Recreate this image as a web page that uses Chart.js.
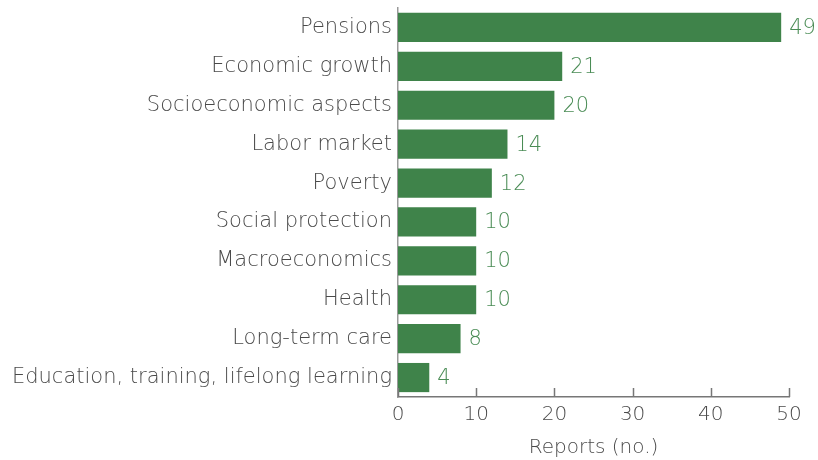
<!DOCTYPE html>
<html>
<head>
<meta charset="utf-8">
<script src="https://cdn.jsdelivr.net/npm/chart.js@4.4.1/dist/chart.umd.min.js"></script>
<style>
  html, body { margin: 0; padding: 0; background: #fff; }
  #wrap { width: 818px; height: 460px; }
</style>
</head>
<body>
<div id="wrap"><canvas id="myChart" width="818" height="460"></canvas></div>
<script>
const topics = [
  'Pensions',
  'Economic growth',
  'Socioeconomic aspects',
  'Labor market',
  'Poverty',
  'Social protection',
  'Macroeconomics',
  'Health',
  'Long-term care',
  'Education, training, lifelong learning'
];
const reports = [49, 21, 20, 14, 12, 10, 10, 10, 8, 4];
const xTicks = [0, 10, 20, 30, 40, 50];

const barColor = '#3f834a';
const labelColor = '#4a8c55';
const textColor = '#4a4a4a';
const axisColor = '#777777';
const fontFamily = "'DejaVu Sans', sans-serif";

// number at the end of each bar
const valueLabels = {
  id: 'valueLabels',
  afterDatasetsDraw(chart) {
    const ctx = chart.ctx;
    const meta = chart.getDatasetMeta(0);
    ctx.save();
    ctx.font = '200 21px ' + fontFamily;
    ctx.fillStyle = labelColor;
    ctx.textAlign = 'left';
    ctx.textBaseline = 'middle';
    meta.data.forEach((bar, i) => {
      ctx.fillText(String(reports[i]), bar.x + 8, bar.y + 1);
    });
    ctx.restore();
  }
};

// short tick marks pointing up from the x axis
const innerTicks = {
  id: 'innerTicks',
  afterDraw(chart) {
    const ctx = chart.ctx;
    const x = chart.scales.x;
    const bottom = chart.chartArea.bottom;
    ctx.save();
    ctx.strokeStyle = axisColor;
    ctx.lineWidth = 1.5;
    xTicks.forEach(v => {
      const px = Math.round(x.getPixelForValue(v)) + 0.5;
      ctx.beginPath();
      ctx.moveTo(px, bottom - 9);
      ctx.lineTo(px, bottom);
      ctx.stroke();
    });
    ctx.restore();
  }
};

const ctx = document.getElementById('myChart').getContext('2d');
new Chart(ctx, {
  type: 'bar',
  data: {
    labels: topics,
    datasets: [{
      data: reports,
      backgroundColor: barColor,
      borderWidth: 0,
      categoryPercentage: 1,
      barPercentage: 0.75
    }]
  },
  options: {
    indexAxis: 'y',
    responsive: false,
    animation: false,
    layout: { padding: { top: 8, right: 29, left: 0, bottom: 0 } },
    plugins: {
      legend: { display: false },
      tooltip: { enabled: false }
    },
    scales: {
      x: {
        min: 0,
        max: 50,
        afterBuildTicks(scale) {
          scale.ticks = xTicks.map(v => ({ value: v }));
        },
        afterFit(scale) {
          scale.height = 63;
          scale.paddingLeft = 0;
          scale.paddingRight = 0;
        },
        grid: { display: false },
        border: { display: true, color: axisColor, width: 1.5 },
        ticks: {
          color: textColor,
          padding: -2,
          font: { family: fontFamily, size: 20, weight: 200 }
        },
        title: {
          display: true,
          text: 'Reports (no.)',
          color: textColor,
          padding: { top: 3, bottom: 0 },
          font: { family: fontFamily, size: 20, weight: 200 }
        }
      },
      y: {
        afterFit(scale) {
          scale.width = 398;
          scale.paddingTop = 0;
          scale.paddingBottom = 0;
        },
        grid: { display: false },
        border: { display: true, color: '#999999', width: 1.5 },
        ticks: {
          color: textColor,
          padding: -2,
          font: { family: fontFamily, size: 21, weight: 200 }
        }
      }
    }
  },
  plugins: [valueLabels, innerTicks]
});
</script>
</body>
</html>
